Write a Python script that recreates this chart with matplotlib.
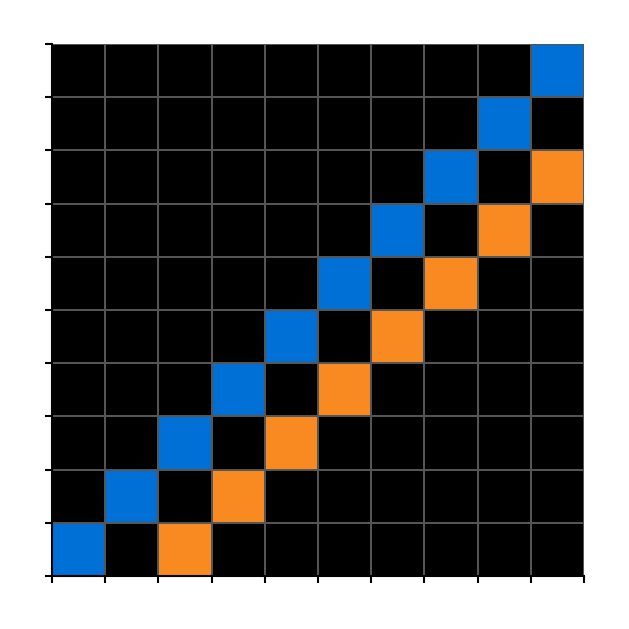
import matplotlib
matplotlib.use("Agg")
import matplotlib.pyplot as plt
import numpy as np
from matplotlib.colors import ListedColormap

# data: 10x10 grid, row 0 at bottom
n = 10
blue_cols = [0, 1, 2, 3, 4, 5, 6, 7, 8, 9]      # blue cell column for each row
orange_cols = [2, 3, 4, 5, 6, 7, 8, 9]          # orange cell column for rows 0..7

grid = np.zeros((n, n))
for row, col in enumerate(blue_cols):
    grid[row, col] = 1
for row, col in enumerate(orange_cols):
    grid[row, col] = 2

cmap = ListedColormap(["#000000", "#006fd6", "#f98a22"])

fig = plt.figure(figsize=(6.29, 6.29), dpi=100)
ax = fig.add_axes([52 / 629, 1 - 576 / 629, 532 / 629, 532 / 629])
ax.pcolormesh(np.arange(n + 1), np.arange(n + 1), grid, cmap=cmap, vmin=0, vmax=2,
              edgecolors="#555555", linewidth=1.2)
ax.set_xlim(0, n)
ax.set_ylim(0, n)
ax.set_xticks(range(n + 1))
ax.set_yticks(range(n + 1))
ax.set_xticklabels([])
ax.set_yticklabels([])
ax.tick_params(length=5, width=1.5, color="black")
for side in ["top", "right"]:
    ax.spines[side].set_visible(False)
for side in ["left", "bottom"]:
    ax.spines[side].set_linewidth(1.5)

fig.savefig("out.png", dpi=100)
